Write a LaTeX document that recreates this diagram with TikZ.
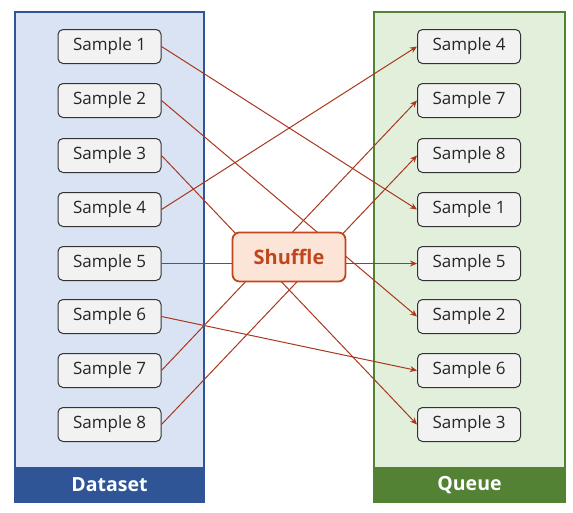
\documentclass[tikz,border=0pt]{standalone}
\usepackage{fontspec}
\setmainfont{Open Sans}
\usetikzlibrary{arrows.meta}
\definecolor{dsfill}{HTML}{DAE3F3}
\definecolor{dsdark}{HTML}{2F5597}
\definecolor{qfill}{HTML}{E2EFDA}
\definecolor{qdark}{HTML}{548235}
\definecolor{sfill}{HTML}{F2F2F2}
\definecolor{sdraw}{HTML}{333333}
\definecolor{shfill}{HTML}{FCE4D6}
\definecolor{shdraw}{HTML}{C0461E}
\definecolor{link}{HTML}{A8381E}
\tikzset{
  panel/.style={draw=#1, line width=1.6pt, inner sep=0pt},
  band/.style={fill=#1, draw=#1, line width=1.6pt, inner sep=0pt, text=white, font=\fontsize{19.5}{22}\selectfont\bfseries},
  sample/.style={draw=sdraw, fill=sfill, rounded corners=5pt, line width=1pt,
    minimum width=103pt, minimum height=34pt, inner sep=0pt, font=\fontsize{17}{20}\selectfont, text=black!85},
  shuf/.style={draw=shdraw, fill=shfill, rounded corners=7pt, line width=1.8pt,
    minimum width=113pt, minimum height=49pt, inner sep=0pt, text=shdraw, font=\fontsize{20}{24}\selectfont\bfseries},
  conn/.style={draw=link, line width=1pt},
  arr/.style={conn, -{Stealth[length=7pt,width=6pt]}}
}
\begin{document}
\begin{tikzpicture}[x=1pt,y=-1pt]
\useasboundingbox (0,0) rectangle (573,512);
% panels
\node[panel=dsdark, fill=dsfill, minimum width=189pt, minimum height=490pt] (dpanel) at (109.5,257) {};
\node[band=dsdark, minimum width=189pt, minimum height=34pt] (dband) at (109.5,485) {Dataset};
\node[panel=qdark, fill=qfill, minimum width=191pt, minimum height=490pt] (qpanel) at (469.5,257) {};
\node[band=qdark, minimum width=191pt, minimum height=34pt] (qband) at (469.5,485) {Queue};
% samples
\foreach \i/\y in {1/46.5,2/100.5,3/155.5,4/209.5,5/263.5,6/316.5,7/370.5,8/424.5}{
  \node[sample] (L\i) at (109.5,\y) {Sample \i};
}
\foreach \i/\y in {4/46.5,7/100.5,8/155.5,1/209.5,5/263.5,2/316.5,6/370.5,3/424.5}{
  \node[sample] (R\i) at (469,\y) {Sample \i};
}
% connectors
\foreach \i in {1,...,8}{
  \draw[arr] (L\i.east) -- (R\i.west);
}
\node[shuf] (sh) at (289,257) {Shuffle};
\end{tikzpicture}
\end{document}
